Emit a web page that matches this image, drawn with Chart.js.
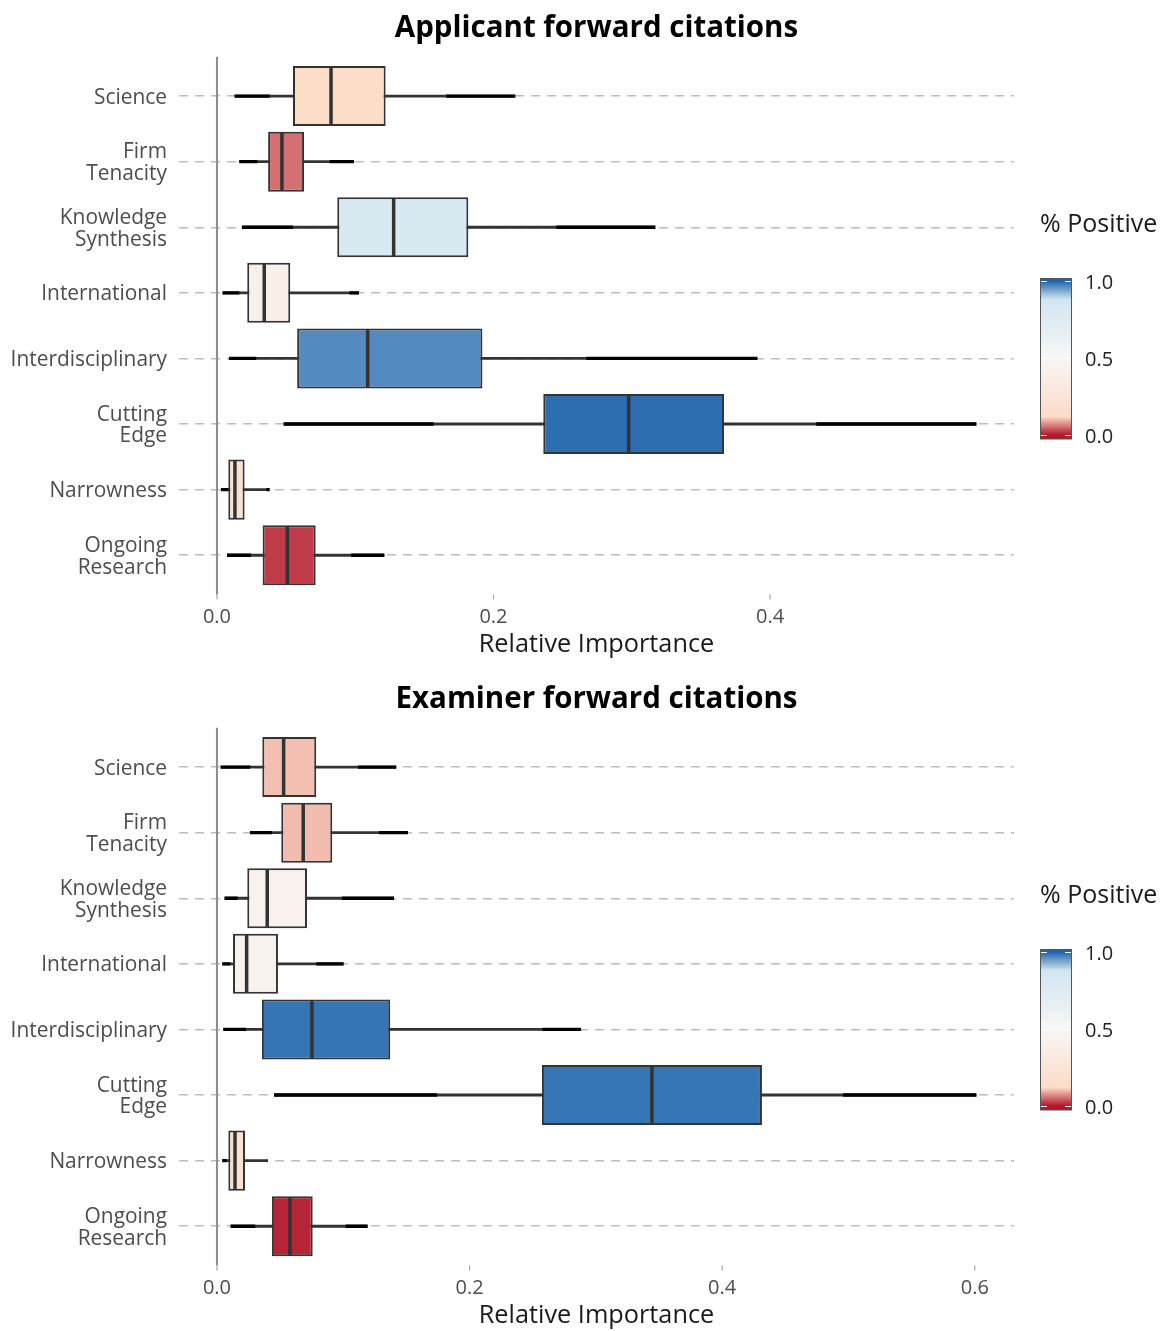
<!DOCTYPE html>
<html><head><meta charset="utf-8">
<script src="https://cdn.jsdelivr.net/npm/chart.js@4.4.1/dist/chart.umd.min.js"></script>
<style>
html,body{margin:0;padding:0;background:#fff;}
.panel{position:absolute;left:0;width:1164px;height:660px;}
canvas{display:block;}
</style></head><body>
<div class="panel" style="top:0"><canvas id="c1" width="1164" height="660"></canvas></div>
<div class="panel" style="top:671px"><canvas id="c2" width="1164" height="660"></canvas></div>
<script>
// ---------- data ----------
const categories = ['Science', ['Firm','Tenacity'], ['Knowledge','Synthesis'], 'International',
  'Interdisciplinary', ['Cutting','Edge'], 'Narrowness', ['Ongoing','Research']];

// Applicant forward citations
const appMin = [0.013, 0.0164, 0.0183, 0.0043, 0.0089, 0.0485, 0.0031, 0.0075];
const appLo  = [0.038, 0.029, 0.0547, 0.016, 0.0282, 0.1565, 0.0082, 0.0244];
const appQ1  = [0.055, 0.037, 0.087, 0.0219, 0.058, 0.236, 0.0082, 0.033];
const appMed = [0.0825, 0.047, 0.1278, 0.0342, 0.109, 0.2978, 0.013, 0.0509];
const appQ3  = [0.122, 0.063, 0.1818, 0.053, 0.192, 0.3667, 0.020, 0.0714];
const appHi  = [0.166, 0.0817, 0.2457, 0.096, 0.2674, 0.4338, 0.036, 0.0974];
const appMax = [0.2155, 0.0989, 0.3168, 0.1025, 0.3906, 0.549, 0.0378, 0.1208];
const appPos = [0.13, 0.054, 0.80, 0.39, 0.966, 0.9925, 0.2, 0.0215];

// Examiner forward citations
const exMin = [0.0032, 0.0264, 0.0063, 0.0045, 0.0053, 0.0454, 0.0045, 0.0111];
const exLo  = [0.0261, 0.0433, 0.0161, 0.0103, 0.0227, 0.174, 0.0075, 0.0301];
const exQ1  = [0.0359, 0.0509, 0.024, 0.0127, 0.0356, 0.2573, 0.009, 0.0435];
const exMed = [0.0528, 0.0683, 0.0398, 0.0235, 0.0752, 0.3444, 0.0143, 0.0578];
const exQ3  = [0.0786, 0.0913, 0.0713, 0.0483, 0.1372, 0.4315, 0.0222, 0.0758];
const exHi  = [0.1119, 0.1285, 0.0992, 0.0789, 0.2579, 0.4959, 0.0398, 0.1021];
const exMax = [0.1417, 0.151, 0.1399, 0.1, 0.288, 0.601, 0.0398, 0.119];
const exPos = [0.103, 0.10, 0.42, 0.43, 0.986, 0.985, 0.2, 0.0074];

const appTicks = [0, 0.2, 0.4];
const exTicks = [0, 0.2, 0.4, 0.6];
const legendTicks = [0, 0.5, 1];

const FONT = "'Open Sans'";

// ---------- colour scale ----------
const STOPS = [[0,'#B2182B'],[0.12,'#FDDBC7'],[0.5,'#F7F7F7'],[0.88,'#D1E5F0'],[1,'#2166AC']];
function hex(c){return [1,3,5].map(i=>parseInt(c.substr(i,2),16));}
function colorFor(p){
  for(let k=1;k<STOPS.length;k++){
    if(p<=STOPS[k][0]){
      const [p0,c0]=STOPS[k-1],[p1,c1]=STOPS[k];
      const t=(p-p0)/(p1-p0); const a=hex(c0),b=hex(c1);
      return 'rgb('+a.map((v,j)=>Math.round(v+(b[j]-v)*t)).join(',')+')';
    }
  }
  return STOPS[STOPS.length-1][1];
}

function boxPlugin(d, ticks, title){ return {
  id:'boxExtras',
  beforeDatasetsDraw(chart){
    const ctx=chart.ctx, xs=chart.scales.x, a=chart.chartArea;
    const s=(a.bottom-a.top)/categories.length, ext=0.1*s;
    const x0=xs.getPixelForValue(0);
    ctx.save();
    ctx.strokeStyle='#8c8c8c'; ctx.lineWidth=2;
    ctx.beginPath(); ctx.moveTo(x0,a.top-ext); ctx.lineTo(x0,a.bottom+ext); ctx.stroke();
    ctx.strokeStyle='#a6a6a6'; ctx.lineWidth=1.2;
    ticks.forEach(v=>{const x=xs.getPixelForValue(v); ctx.beginPath(); ctx.moveTo(x,a.bottom+ext); ctx.lineTo(x,a.bottom+ext+5); ctx.stroke();});
    ctx.restore();
  },
  afterDatasetsDraw(chart){
    const ctx=chart.ctx, xs=chart.scales.x, a=chart.chartArea;
    const meta=chart.getDatasetMeta(0);
    ctx.save(); ctx.strokeStyle='#333'; ctx.lineWidth=3.5;
    meta.data.forEach((bar,i)=>{
      const xm=xs.getPixelForValue(d.med[i]); const h=bar.height;
      ctx.beginPath(); ctx.moveTo(xm,bar.y-h/2+1); ctx.lineTo(xm,bar.y+h/2-1); ctx.stroke();
    });
    ctx.fillStyle='#000'; ctx.font='bold 29.5px '+FONT; ctx.textAlign='center'; ctx.textBaseline='middle';
    ctx.fillText(title,(a.left+a.right)/2,29);
    ctx.restore();
  }
};}

const legendPlugin = { id:'colorbar', afterDraw(chart){
  const ctx=chart.ctx, a=chart.chartArea;
  const bx=a.right+26, bw=32, y1=281, y0=435;
  const yOf=v=>y0+(y1-y0)*v;
  ctx.save();
  ctx.fillStyle='#1a1a1a'; ctx.font='25px '+FONT; ctx.textBaseline='middle'; ctx.textAlign='left';
  ctx.fillText('% Positive', bx, 224.5);
  const g=ctx.createLinearGradient(0,yOf(0),0,yOf(1));
  STOPS.forEach(([p,c])=>g.addColorStop(p,c));
  ctx.fillStyle=g; ctx.fillRect(bx,278.5,bw,160.5);
  ctx.strokeStyle='#555'; ctx.lineWidth=1; ctx.strokeRect(bx+0.5,278.5,bw-1,160.5);
  ctx.strokeStyle='#fff'; ctx.lineWidth=1;
  ctx.fillStyle='#222'; ctx.font='20px '+FONT;
  legendTicks.forEach(v=>{
    const y=Math.round(yOf(v))+0.5;
    ctx.beginPath(); ctx.moveTo(bx+1,y); ctx.lineTo(bx+7,y); ctx.moveTo(bx+bw-7,y); ctx.lineTo(bx+bw-1,y); ctx.stroke();
    ctx.fillText(v.toFixed(1), bx+45, yOf(v)+2);
  });
  ctx.restore();
}};

function makeChart(id, title, d, ticks){
  const dataMax=Math.max(...d.max);
  const xMin=-0.05*dataMax, xMax=1.05*dataMax;
  return new Chart(document.getElementById(id), {
    type:'bar',
    data:{labels:categories, datasets:[
      {label:'box', data:d.q1.map((v,i)=>[v,d.q3[i]]), backgroundColor:d.pos.map(colorFor),
        borderColor:'#333', borderWidth:2, borderSkipped:false, categoryPercentage:1, barPercentage:0.915, grouped:false, order:0},
      {label:'whisker', data:d.min.map((v,i)=>[v,d.max[i]]), backgroundColor:'#333', barThickness:2.2, grouped:false, order:2},
      {label:'lowTail', data:d.min.map((v,i)=>[v,d.lo[i]]), backgroundColor:'#000', barThickness:2.7, grouped:false, order:1},
      {label:'highTail', data:d.hi.map((v,i)=>[v,d.max[i]]), backgroundColor:'#000', barThickness:2.7, grouped:false, order:1}
    ]},
    options:{
      indexAxis:'y', responsive:false, animation:false, events:[],
      layout:{padding:{left:0,right:150,top:63.3,bottom:0}},
      plugins:{legend:{display:false}, tooltip:{enabled:false}, title:{display:false}},
      scales:{
        x:{type:'linear', min:xMin, max:xMax,
          afterBuildTicks:s=>{s.ticks=ticks.map(v=>({value:v}));},
          ticks:{callback:v=>v.toFixed(1), font:{family:FONT, size:20}, color:'#4d4d4d', padding:17, maxRotation:0},
          grid:{drawOnChartArea:false, drawTicks:false},
          border:{display:false},
          title:{display:true, text:'Relative Importance', color:'#1a1a1a', font:{family:FONT, size:25.3}, padding:{top:0,bottom:0.5}},
          afterFit:s=>{s.height=72;}
        },
        y:{type:'category', offset:true,
          grid:{offset:false, drawTicks:false, color:'#bdbdbd', lineWidth:1.5},
          border:{display:false, dash:[9,7]},
          ticks:{font:{family:FONT, size:20.9, lineHeight:1.05}, color:'#4d4d4d', padding:12, labelOffset:1.5},
          afterFit:s=>{s.width=179;}
        }
      }
    },
    plugins:[boxPlugin(d, ticks, title), legendPlugin]
  });
}

makeChart('c1','Applicant forward citations',
  {min:appMin, lo:appLo, q1:appQ1, med:appMed, q3:appQ3, hi:appHi, max:appMax, pos:appPos}, appTicks);
makeChart('c2','Examiner forward citations',
  {min:exMin, lo:exLo, q1:exQ1, med:exMed, q3:exQ3, hi:exHi, max:exMax, pos:exPos}, exTicks);
</script>
</body></html>
